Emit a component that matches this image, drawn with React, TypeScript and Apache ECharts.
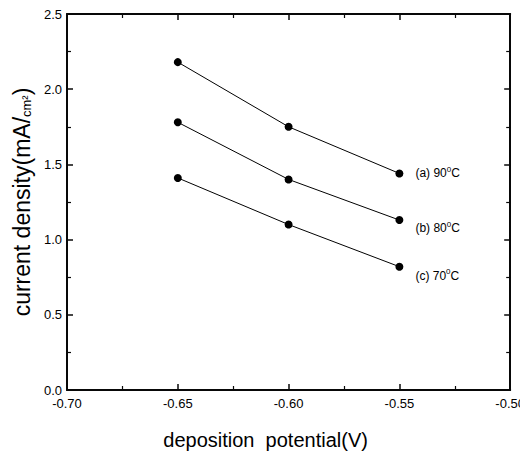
import React, { useEffect, useRef } from "react";
import * as echarts from "echarts";

const potentials = [-0.65, -0.6, -0.55];
const series90 = [2.18, 1.75, 1.44];
const series80 = [1.78, 1.4, 1.13];
const series70 = [1.41, 1.1, 0.82];
const seriesLabels = ["(a) 90", "(b) 80", "(c) 70"];
const xTicks = [-0.7, -0.65, -0.6, -0.55, -0.5];
const yTicks = [0, 0.5, 1, 1.5, 2, 2.5];

const FONT = "Liberation Sans, Arial, sans-serif";
const INK = "rgb(8,8,8)";

function axisLineOpt() {
  return { show: true, onZero: false, lineStyle: { color: INK, width: 2, opacity: 1 } };
}
function axisTickOpt() {
  return { show: true, inside: true, length: 6, lineStyle: { color: INK, width: 1.5, opacity: 1 } };
}
function minorTickOpt() {
  return { show: true, splitNumber: 2, length: 4, lineStyle: { color: INK, width: 1.2, opacity: 1 } };
}

export default function App() {
  const ref = useRef<HTMLDivElement>(null);
  useEffect(() => {
    if (!ref.current) return;
    const chart = echarts.init(ref.current, undefined, { renderer: "svg" });
    const allSeries = [series90, series80, series70];
    const offsets = [[0, 0], [0, 8], [0, 9]];
    chart.setOption({
      animation: false,
      backgroundColor: "#fff",
      textStyle: { fontFamily: FONT },
      grid: { left: 67, right: 15, top: 14, bottom: 71 },
      xAxis: [
        {
          type: "value",
          min: -0.7,
          max: -0.5,
          interval: 0.05,
          position: "bottom",
          axisLine: axisLineOpt(),
          axisTick: axisTickOpt(),
          minorTick: minorTickOpt(),
          splitLine: { show: false },
          axisLabel: {
            color: "#000",
            fontSize: 13,
            margin: 7,
            fontFamily: FONT,
            formatter: (v: number) => (xTicks.some((t) => Math.abs(t - v) < 1e-9) ? v.toFixed(2) : ""),
          },
          name: "deposition  potential(V)",
          nameLocation: "middle",
          nameGap: 40,
          nameTextStyle: { color: "#000", fontSize: 20, fontFamily: FONT, padding: [0, 46, 0, 0] },
        },
        {
          type: "value",
          min: -0.7,
          max: -0.5,
          interval: 0.05,
          position: "top",
          axisLine: axisLineOpt(),
          axisTick: axisTickOpt(),
          minorTick: minorTickOpt(),
          splitLine: { show: false },
          axisLabel: { show: false },
        },
      ],
      yAxis: [
        {
          type: "value",
          min: 0,
          max: 2.5,
          interval: 0.5,
          position: "left",
          axisLine: axisLineOpt(),
          axisTick: axisTickOpt(),
          minorTick: minorTickOpt(),
          splitLine: { show: false },
          axisLabel: {
            color: "#000",
            fontSize: 13,
            margin: 5,
            fontFamily: FONT,
            formatter: (v: number) => (yTicks.some((t) => Math.abs(t - v) < 1e-9) ? v.toFixed(1) : ""),
          },
          name: "current density(mA/{s|cm²})",
          nameLocation: "middle",
          nameGap: 31,
          nameTextStyle: {
            color: "#000",
            fontSize: 23,
            fontFamily: FONT,
            rich: { s: { fontSize: 13, color: "#000", fontFamily: FONT, verticalAlign: "bottom" } },
          },
        },
        {
          type: "value",
          min: 0,
          max: 2.5,
          interval: 0.5,
          position: "right",
          axisLine: axisLineOpt(),
          axisTick: axisTickOpt(),
          minorTick: minorTickOpt(),
          splitLine: { show: false },
          axisLabel: { show: false },
        },
      ],
      series: allSeries.map((vals, si) => ({
        type: "line",
        xAxisIndex: 0,
        yAxisIndex: 0,
        symbol: "circle",
        symbolSize: 8,
        itemStyle: { color: "#000" },
        lineStyle: { color: "#000", width: 1 },
        data: potentials.map((p, i) => {
          const d: any = { value: [p, vals[i]] };
          if (i === potentials.length - 1) {
            d.label = {
              show: true,
              position: "right",
              distance: 12,
              offset: offsets[si],
              formatter: seriesLabels[si] + "{sup|0}C",
              color: "#000",
              fontSize: 12,
              fontFamily: FONT,
              rich: {
                sup: { fontSize: 8, color: "#000", fontFamily: FONT, verticalAlign: "bottom", padding: [0, 0, 8, 0] },
              },
            };
          }
          return d;
        }),
      })),
    });
    return () => chart.dispose();
  }, []);
  return <div ref={ref} style={{ width: 528, height: 461, margin: -8 }} />;
}
